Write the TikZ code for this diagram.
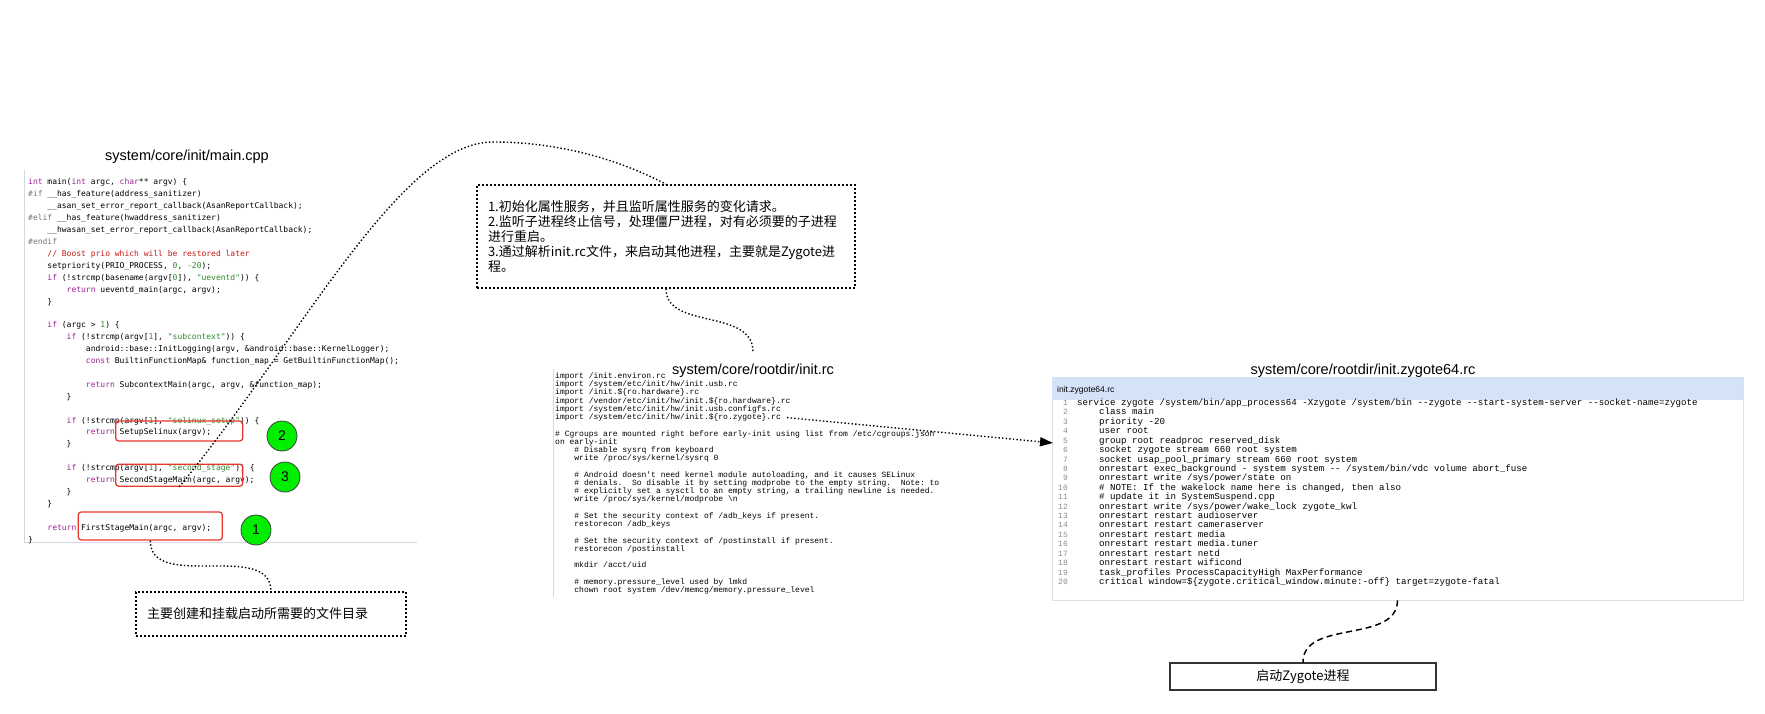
\documentclass[tikz,border=0pt]{standalone}
\usepackage{fontspec}
\setmainfont{Liberation Sans}
\newfontfamily\cjk{Noto Sans CJK SC}
\newfontfamily\cppfont{DejaVu Sans Mono}
\newfontfamily\rcfont{Liberation Mono}
\usetikzlibrary{arrows.meta}

\definecolor{kwpurple}{HTML}{9B2393}
\definecolor{strgreen}{HTML}{2E8B2E}
\definecolor{cmtred}{HTML}{C41A16}
\definecolor{pregray}{HTML}{7A7A7A}
\definecolor{boxred}{HTML}{E8372C}
\definecolor{dotgreen}{HTML}{00EE00}
\definecolor{headblue}{HTML}{D4E3F8}
\definecolor{gutter}{HTML}{D2D8E4}

\newcommand\ckw[1]{\textcolor{kwpurple}{#1}}
\newcommand\cstr[1]{\textcolor{strgreen}{#1}}
\newcommand\cnum[1]{\textcolor{strgreen}{#1}}
\newcommand\ccmt[1]{\textcolor{cmtred}{#1}}
\newcommand\cpre[1]{\textcolor{pregray}{#1}}
\newcommand\ind[1]{\hspace*{#1\fontcharwd\font`x}}

% one node per code line, y in pixels from the top
\newcommand\cppln[2]{\node[cppline] (cpp#1) at (28,{185+11.9*#1}) {#2};}
\newcommand\rcln[2]{\node[rcline] (rc#1) at (555,{378.5+8.23*#1}) {#2};}
\newcommand\zyln[2]{\node[zynum] (zn#1) at (1068,{405.5+9.42*(#1-1)}) {#1};
  \node[zyline] (zy#1) at (1077,{405.5+9.42*(#1-1)}) {#2};}

\tikzset{
  cppline/.style={anchor=base west, inner sep=0pt, font=\cppfont\fontsize{8}{10}\selectfont\frenchspacing},
  rcline/.style={anchor=base west, inner sep=0pt, font=\rcfont\fontsize{8}{9}\selectfont\frenchspacing},
  zyline/.style={anchor=base west, inner sep=0pt, font=\rcfont\fontsize{9.15}{10}\selectfont\frenchspacing},
  zynum/.style={anchor=base east, inner sep=0pt, text=black!45, font=\rcfont\fontsize{8}{9}\selectfont},
  filetitle/.style={anchor=base, inner sep=2pt, font=\fontsize{14.5}{16}\selectfont},
  redbox/.style={draw=boxred, line width=1.3pt, rounded corners=3pt, inner sep=0pt},
  stepdot/.style={circle, fill=dotgreen, draw=black!75, line width=0.8pt, minimum size=30pt, inner sep=0pt, font=\fontsize{14}{14}\selectfont},
  notebox/.style={draw, line width=1.5pt, dash pattern=on 1.6pt off 2.4pt, align=left, inner xsep=11pt, font=\cjk\fontsize{13}{15}\selectfont},
  dotlink/.style={line width=1.4pt, dash pattern=on 1.4pt off 2.2pt},
  dashlink/.style={line width=1.5pt, dash pattern=on 6pt off 4pt},
  gutterline/.style={draw=gutter, line width=1pt}
}

\begin{document}
\begin{tikzpicture}[x=1pt,y=-1pt]
  \useasboundingbox (0,0) rectangle (1765,714);
  \fill[white] (0,0) rectangle (1765,714);

  % main.cpp
  \node[filetitle] (cpptitle) at (187,161) {system/core/init/main.cpp};
  \draw[gutterline] (24,170) -- (24,542) -- (417,542);
  \cppln{0}{\ckw{int} main(\ckw{int} argc, \ckw{char}** argv) \{}
  \cppln{1}{\cpre{\#if} \_\_has\_feature(address\_sanitizer)}
  \cppln{2}{\ind{4}\_\_asan\_set\_error\_report\_callback(AsanReportCallback);}
  \cppln{3}{\cpre{\#elif} \_\_has\_feature(hwaddress\_sanitizer)}
  \cppln{4}{\ind{4}\_\_hwasan\_set\_error\_report\_callback(AsanReportCallback);}
  \cppln{5}{\cpre{\#endif}}
  \cppln{6}{\ind{4}\ccmt{// Boost prio which will be restored later}}
  \cppln{7}{\ind{4}setpriority(PRIO\_PROCESS, \cnum{0}, \cnum{-20});}
  \cppln{8}{\ind{4}\ckw{if} (!strcmp(basename(argv[\cnum{0}]), \cstr{"ueventd"})) \{}
  \cppln{9}{\ind{8}\ckw{return} ueventd\_main(argc, argv);}
  \cppln{10}{\ind{4}\}}
  \cppln{12}{\ind{4}\ckw{if} (argc > \cnum{1}) \{}
  \cppln{13}{\ind{8}\ckw{if} (!strcmp(argv[\cnum{1}], \cstr{"subcontext"})) \{}
  \cppln{14}{\ind{12}android::base::InitLogging(argv, \&android::base::KernelLogger);}
  \cppln{15}{\ind{12}\ckw{const} BuiltinFunctionMap\& function\_map = GetBuiltinFunctionMap();}
  \cppln{17}{\ind{12}\ckw{return} SubcontextMain(argc, argv, \&function\_map);}
  \cppln{18}{\ind{8}\}}
  \cppln{20}{\ind{8}\ckw{if} (!strcmp(argv[\cnum{1}], \cstr{"selinux\_setup"})) \{}
  \cppln{21}{\ind{12}\ckw{return} SetupSelinux(argv);}
  \cppln{22}{\ind{8}\}}
  \cppln{24}{\ind{8}\ckw{if} (!strcmp(argv[\cnum{1}], \cstr{"second\_stage"})) \{}
  \cppln{25}{\ind{12}\ckw{return} SecondStageMain(argc, argv);}
  \cppln{26}{\ind{8}\}}
  \cppln{27}{\ind{4}\}}
  \cppln{29}{\ind{4}\ckw{return} FirstStageMain(argc, argv);}
  \cppln{30}{\}}

  \node[redbox, minimum width=127pt, minimum height=20pt] (selbox) at (179.2,431) {};
  \node[redbox, minimum width=127pt, minimum height=22pt] (secbox) at (179.2,475.2) {};
  \node[redbox, minimum width=144pt, minimum height=28pt] (firstbox) at (150.3,526) {};
  \node[stepdot] (dottwo) at (282,436) {2};
  \node[stepdot] (dotthree) at (285,477) {3};
  \node[stepdot] (dotone) at (256,530) {1};

  % init.rc
  \node[filetitle] (rctitle) at (753,374) {system/core/rootdir/init.rc};
  \draw[gutterline] (553,369) -- (553,597);
  \rcln{0}{import /init.environ.rc}
  \rcln{1}{import /system/etc/init/hw/init.usb.rc}
  \rcln{2}{import /init.\$\{ro.hardware\}.rc}
  \rcln{3}{import /vendor/etc/init/hw/init.\$\{ro.hardware\}.rc}
  \rcln{4}{import /system/etc/init/hw/init.usb.configfs.rc}
  \rcln{5}{import /system/etc/init/hw/init.\$\{ro.zygote\}.rc}
  \rcln{7}{\# Cgroups are mounted right before early-init using list from /etc/cgroups.json}
  \rcln{8}{on early-init}
  \rcln{9}{\ind{4}\# Disable sysrq from keyboard}
  \rcln{10}{\ind{4}write /proc/sys/kernel/sysrq 0}
  \rcln{12}{\ind{4}\# Android doesn't need kernel module autoloading, and it causes SELinux}
  \rcln{13}{\ind{4}\# denials.\ \ So disable it by setting modprobe to the empty string.\ \ Note: to}
  \rcln{14}{\ind{4}\# explicitly set a sysctl to an empty string, a trailing newline is needed.}
  \rcln{15}{\ind{4}write /proc/sys/kernel/modprobe \textbackslash n}
  \rcln{17}{\ind{4}\# Set the security context of /adb\_keys if present.}
  \rcln{18}{\ind{4}restorecon /adb\_keys}
  \rcln{20}{\ind{4}\# Set the security context of /postinstall if present.}
  \rcln{21}{\ind{4}restorecon /postinstall}
  \rcln{23}{\ind{4}mkdir /acct/uid}
  \rcln{25}{\ind{4}\# memory.pressure\_level used by lmkd}
  \rcln{26}{\ind{4}chown root system /dev/memcg/memory.pressure\_level}

  % init.zygote64.rc
  \node[filetitle] (zytitle) at (1363,374) {system/core/rootdir/init.zygote64.rc};
  \node[draw=black!12, line width=0.8pt, minimum width=691pt, minimum height=223pt, inner sep=0pt] (zyblock) at (1397.5,488.5) {};
  \fill[headblue] (1052,377) rectangle (1743,400);
  \node[anchor=base west, inner sep=0pt, font=\fontsize{8.5}{10}\selectfont] (zyhead) at (1057,392) {init.zygote64.rc};
  \zyln{1}{service zygote /system/bin/app\_process64 -Xzygote /system/bin -{}-zygote -{}-start-system-server -{}-socket-name=zygote}
  \zyln{2}{\ind{4}class main}
  \zyln{3}{\ind{4}priority -20}
  \zyln{4}{\ind{4}user root}
  \zyln{5}{\ind{4}group root readproc reserved\_disk}
  \zyln{6}{\ind{4}socket zygote stream 660 root system}
  \zyln{7}{\ind{4}socket usap\_pool\_primary stream 660 root system}
  \zyln{8}{\ind{4}onrestart exec\_background - system system -{}- /system/bin/vdc volume abort\_fuse}
  \zyln{9}{\ind{4}onrestart write /sys/power/state on}
  \zyln{10}{\ind{4}\# NOTE: If the wakelock name here is changed, then also}
  \zyln{11}{\ind{4}\# update it in SystemSuspend.cpp}
  \zyln{12}{\ind{4}onrestart write /sys/power/wake\_lock zygote\_kwl}
  \zyln{13}{\ind{4}onrestart restart audioserver}
  \zyln{14}{\ind{4}onrestart restart cameraserver}
  \zyln{15}{\ind{4}onrestart restart media}
  \zyln{16}{\ind{4}onrestart restart media.tuner}
  \zyln{17}{\ind{4}onrestart restart netd}
  \zyln{18}{\ind{4}onrestart restart wificond}
  \zyln{19}{\ind{4}task\_profiles ProcessCapacityHigh MaxPerformance}
  \zyln{20}{\ind{4}critical window=\$\{zygote.critical\_window.minute:-off\} target=zygote-fatal}
  \coordinate (zyin) at (1053,443);

  % notes
  \node[notebox, text width=356pt, minimum height=103pt] (initnote) at (666,236.5)
    {1.初始化属性服务，并且监听属性服务的变化请求。\\
     2.监听子进程终止信号，处理僵尸进程，对有必须要的子进程\\
     进行重启。\\
     3.通过解析init.rc文件，来启动其他进程，主要就是Zygote进\\
     程。};
  \node[notebox, text width=248pt, minimum height=44pt] (dirnote) at (271,614) {主要创建和挂载启动所需要的文件目录};
  \node[draw=black!80, line width=1.5pt, minimum width=266pt, minimum height=27pt, font=\cjk\fontsize{13}{15}\selectfont] (zynote) at (1303,676.5) {启动Zygote进程};

  % connectors
  \draw[dotlink] (secbox.south) .. controls (300,340) and (400,142) .. (493,142)
    .. controls (560,142) and (620,160) .. (initnote.north);
  \draw[dotlink] (initnote.south) .. controls (666,330) and (752,308) .. ([yshift=10pt]rctitle.north);
  \draw[dotlink, -{Triangle[length=13pt,width=9pt]}] ([xshift=6pt]rc5.east) -- (zyin);
  \draw[dotlink] (firstbox.south) .. controls (150,592) and (271,540) .. (dirnote.north);
  \draw[dashlink] (zyblock.south) .. controls (1397,644) and (1303,619) .. (zynote.north);
\end{tikzpicture}
\end{document}
